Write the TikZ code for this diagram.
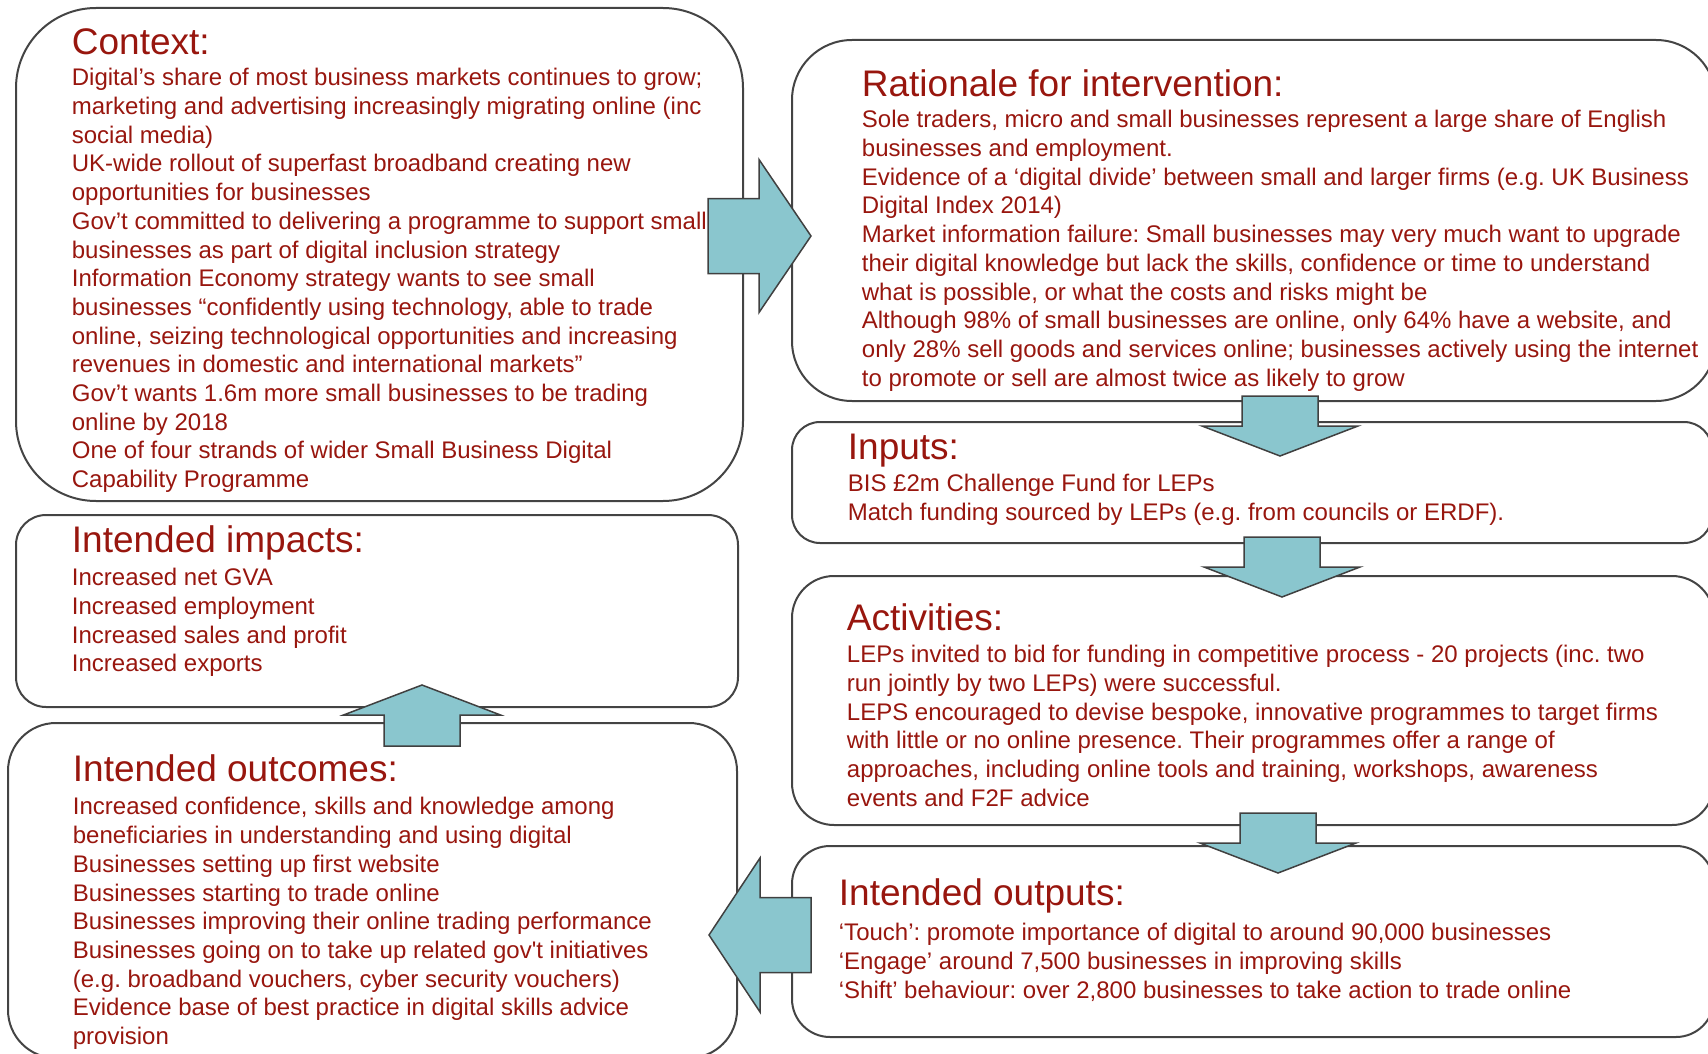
\documentclass[tikz,border=0pt]{standalone}
\usepackage{fontspec}
\setmainfont{Liberation Sans}
\frenchspacing
\definecolor{txtred}{RGB}{152,22,14}
\definecolor{boxline}{RGB}{68,68,68}
\definecolor{arrfill}{RGB}{138,198,206}
\definecolor{arrline}{RGB}{64,64,64}
% name, x1, y1, x2, y2, radius (all in px)
\newcommand{\lmbox}[6]{%
  \node[boxstyle, rounded corners={#6*0.5pt},
        minimum width={(#4-#2)*0.5pt}, minimum height={(#5-#3)*0.5pt},
        anchor=north west] (#1) at (#2,#3) {};}
\begin{document}
\begin{tikzpicture}[x=0.5pt,y=-0.5pt,
  boxstyle/.style={draw=boxline, line width=1pt, rectangle, inner sep=0pt, outer sep=0pt},
  ttl/.style={text=txtred, font=\fontsize{18.5pt}{22pt}\selectfont, inner sep=0pt, anchor=base west},
  body/.style={text=txtred, font=\fontsize{12pt}{14.35pt}\selectfont\frenchspacing, inner sep=0pt, align=left, anchor=north west},
  barrow/.style={fill=arrfill, draw=arrline, line width=0.75pt, line join=miter}]
\useasboundingbox (0,0) rectangle (1708,1054);
\clip (0,0) rectangle (1708,1054);

% ---------- boxes ----------
\lmbox{ctx}{16}{8}{743}{501}{80}
\lmbox{rat}{792}{40}{1716}{401}{60}
\lmbox{inp}{792}{422}{1712}{543}{28}
\lmbox{act}{792}{576}{1714}{825}{42}
\lmbox{outp}{792}{846}{1714}{1037}{38}
\lmbox{imp}{16}{515}{738}{707}{30}
\lmbox{outc}{8}{723}{737}{1058}{48}

% ---------- Context ----------
\node[ttl] (ctxT) at (71.5,54.5) {Context:};
\node[body] (ctxB) at (71.5,65.4) {\strut Digital’s share of most business markets continues to grow;\\
marketing and advertising increasingly migrating online (inc\\
social media)\\
UK-wide rollout of superfast broadband creating new\\
opportunities for businesses\\
Gov’t committed to delivering a programme to support small\\
businesses as part of digital inclusion strategy\\
Information Economy strategy wants to see small\\
businesses “confidently using technology, able to trade\\
online, seizing technological opportunities and increasing\\
revenues in domestic and international markets”\\
Gov’t wants 1.6m more small businesses to be trading\\
online by 2018\\
One of four strands of wider Small Business Digital\\
Capability Programme};

% ---------- Rationale ----------
\node[ttl] (ratT) at (861.5,96.5) {Rationale for intervention:};
\node[body] (ratB) at (861.5,107.4) {\strut Sole traders, micro and small businesses represent a large share of English\\
businesses and employment.\\
Evidence of a ‘digital divide’ between small and larger firms (e.g. UK Business\\
Digital Index 2014)\\
Market information failure: Small businesses may very much want to upgrade\\
their digital knowledge but lack the skills, confidence or time to understand\\
what is possible, or what the costs and risks might be\\
Although 98\% of small businesses are online, only 64\% have a website, and\\
only 28\% sell goods and services online; businesses actively using the internet\\
to promote or sell are almost twice as likely to grow};

% ---------- Inputs ----------
\node[ttl] (inpT) at (847.5,459.5) {Inputs:};
\node[body] (inpB) at (847.5,471.4) {\strut BIS £2m Challenge Fund for LEPs\\
Match funding sourced by LEPs (e.g. from councils or ERDF).};

% ---------- Activities ----------
\node[ttl] (actT) at (846.5,630.5) {Activities:};
\node[body] (actB) at (846.5,642.4) {\strut LEPs invited to bid for funding in competitive process - 20 projects (inc. two\\
run jointly by two LEPs) were successful.\\
LEPS encouraged to devise bespoke, innovative programmes to target firms\\
with little or no online presence. Their programmes offer a range of\\
approaches, including online tools and training, workshops, awareness\\
events and F2F advice};

% ---------- Intended outputs ----------
\node[ttl] (outpT) at (838.5,905.5) {Intended outputs:};
\node[body] (outpB) at (838.5,920.4) {\strut ‘Touch’: promote importance of digital to around 90,000 businesses\\
‘Engage’ around 7,500 businesses in improving skills\\
‘Shift’ behaviour: over 2,800 businesses to take action to trade online};

% ---------- Intended impacts ----------
\node[ttl] (impT) at (71.5,552.5) {Intended impacts:};
\node[body] (impB) at (71.5,565.4) {\strut Increased net GVA\\
Increased employment\\
Increased sales and profit\\
Increased exports};

% ---------- Intended outcomes ----------
\node[ttl] (outcT) at (72.5,781) {Intended outcomes:};
\node[body] (outcB) at (72.5,794.4) {\strut Increased confidence, skills and knowledge among\\
beneficiaries in understanding and using digital\\
Businesses setting up first website\\
Businesses starting to trade online\\
Businesses improving their online trading performance\\
Businesses going on to take up related gov\textquotesingle t initiatives\\
(e.g. broadband vouchers, cyber security vouchers)\\
Evidence base of best practice in digital skills advice\\
provision};

% ---------- block arrows ----------
% Context -> Rationale
\coordinate (a1) at (811,236);
\draw[barrow] (a1) -- ++(-52,-76.5) -- ++(0,39) -- ++(-51,0) -- ++(0,75) -- ++(51,0) -- ++(0,39) -- cycle;
% Rationale -> Inputs
\coordinate (a2) at (1280,456);
\draw[barrow] (a2) -- ++(-78,-30) -- ++(40,0) -- ++(0,-30) -- ++(76,0) -- ++(0,30) -- ++(40,0) -- cycle;
% Inputs -> Activities
\coordinate (a3) at (1282,597);
\draw[barrow] (a3) -- ++(-78,-30) -- ++(40,0) -- ++(0,-30) -- ++(76,0) -- ++(0,30) -- ++(40,0) -- cycle;
% Activities -> Outputs
\coordinate (a4) at (1278,873);
\draw[barrow] (a4) -- ++(-78,-30) -- ++(40,0) -- ++(0,-30) -- ++(76,0) -- ++(0,30) -- ++(40,0) -- cycle;
% Outputs -> Outcomes
\coordinate (a5) at (709,935);
\draw[barrow] (a5) -- ++(51,-77) -- ++(0,39.5) -- ++(51,0) -- ++(0,75) -- ++(-51,0) -- ++(0,39.5) -- cycle;
% Outcomes -> Impacts
\coordinate (a6) at (422,685);
\draw[barrow] (a6) -- ++(-78.5,30) -- ++(40.5,0) -- ++(0,31) -- ++(76,0) -- ++(0,-31) -- ++(40.5,0) -- cycle;
\end{tikzpicture}
\end{document}
